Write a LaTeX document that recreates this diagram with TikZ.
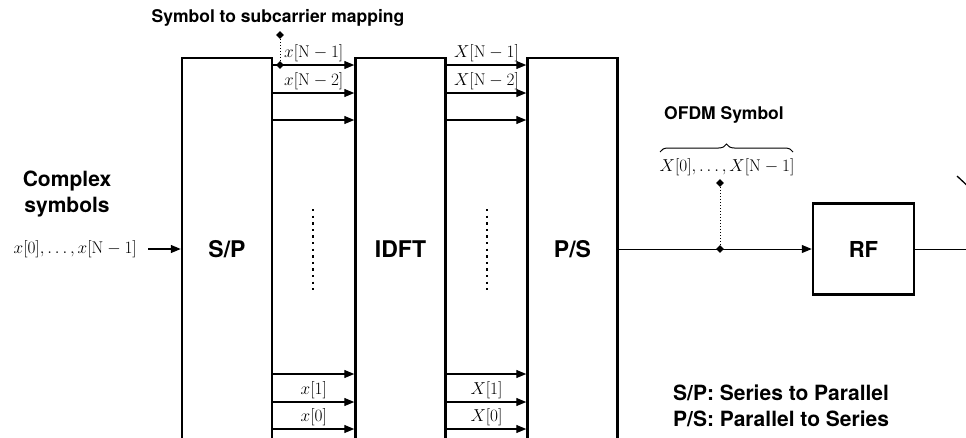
\documentclass[tikz,border=0pt]{standalone}
\usepackage{fontspec}
\newfontfamily\hv{TeX Gyre Heros}
\usetikzlibrary{arrows.meta, positioning, shapes.geometric, decorations.pathreplacing}

\begin{document}
\begin{tikzpicture}[
  x=1pt, y=-1pt,
  every node/.style={inner sep=0pt},
  lbl/.style={font=\hv\bfseries\fontsize{17.5}{21}\selectfont, align=center},
  big/.style={font=\hv\bfseries\fontsize{21}{26}\selectfont, align=center},
  blk/.style={rectangle, draw, line width=2.5pt, minimum width=90pt,
              minimum height=382pt, font=\hv\bfseries\fontsize{23}{27}\selectfont},
  sub/.style={font=\fontsize{17}{20}\selectfont, above=3pt},
  ar/.style={-{Triangle[length=10pt,width=8pt]}, line width=1.3pt},
  pin/.style={diamond, fill, minimum size=8pt, inner sep=0pt},
  tap/.style={dotted, line width=1pt},
  vdots/.style={line width=2.4pt, dash pattern=on 2.4pt off 4.2pt}
]
\useasboundingbox (0,0) rectangle (966,437);
\clip (0,0) rectangle (966,437);

% blocks
\node[blk] (sp)   at (227,249)   {S/P};
\node[blk] (idft) at (400.5,249) {IDFT};
\node[blk] (ps)   at (572.5,249) {P/S};
\node[rectangle, draw, line width=2.5pt, minimum width=101pt, minimum height=91pt,
      font=\hv\bfseries\fontsize{22}{26}\selectfont] (rf) at (863.5,249) {RF};

% input
\node[big] (cs) at (67,194) {Complex\\symbols};
\node[font=\fontsize{17}{20}\selectfont, anchor=east] (xin) at (137,249)
  {$x[0],\ldots,x[\mathrm{N}-1]$};
\draw[ar] (xin.east) ++(11,0) coordinate (xs) (xs) -- (sp.west);

% parallel branches
\foreach \y in {65,93,120,374,402,429} {
  \draw[ar] (sp.east |- 0,\y) -- (idft.west |- 0,\y);
  \draw[ar] (idft.east |- 0,\y) -- (ps.west |- 0,\y);
}
\foreach \y/\t in {65/\mathrm{N}-1, 93/\mathrm{N}-2, 402/1, 429/0} {
  \path (sp.east |- 0,\y) -- node[sub] {$x[\t]$} (idft.west |- 0,\y);
  \path (idft.east |- 0,\y) -- node[sub] {$X[\t]$} (ps.west |- 0,\y);
}
\draw[vdots] (313,209) -- (313,290);
\draw[vdots] (487,209) -- (487,290);

% subcarrier mapping
\node[lbl] (map) at (278,18) {Symbol to subcarrier mapping};
\node[pin] (m1) at (280,35) {};
\node[pin] (m0) at (280,65) {};
\draw[tap] (m1) -- (m0);

% serial output
\draw[ar, line width=1pt] (ps.east) -- (rf.west);
\coordinate (out) at (970,249);
\draw[line width=1pt] (rf.east) -- (out);
\draw[line width=1.3pt] (957,176) -- (972,190);

% OFDM symbol
\node[lbl] (ofdm) at (724,115) {OFDM Symbol};
\draw[decorate, decoration={brace, amplitude=8pt}, line width=1pt] (660,152) -- (793,152);
\node[font=\fontsize{17}{20}\selectfont] (xo) at (727,167) {$X[0],\ldots,X[\mathrm{N}-1]$};
\node[pin] (o1) at (720,183) {};
\node[pin] (o0) at (720,249) {};
\draw[tap] (o1) -- (o0);

% legend
\node[big, align=left, anchor=west] (leg) at (673,406)
  {S/P: Series to Parallel\\P/S: Parallel to Series};
\end{tikzpicture}
\end{document}
